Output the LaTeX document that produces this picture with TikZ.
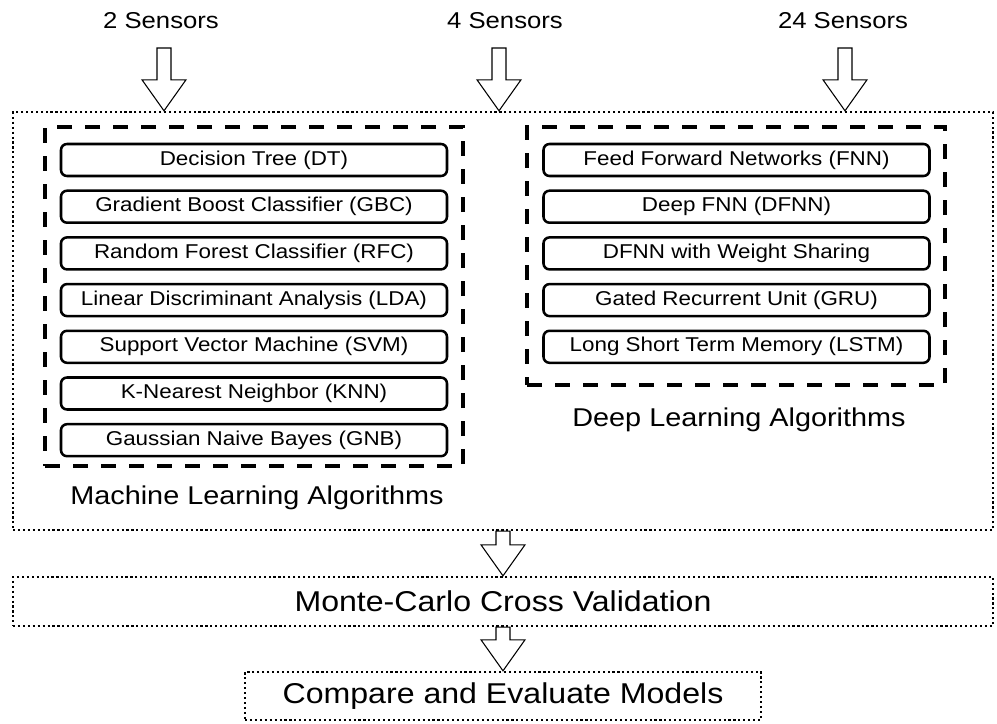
\documentclass[tikz,border=0pt]{standalone}
\usepackage{fontspec}
\setmainfont{Liberation Sans}[FakeStretch=1.12]
\usetikzlibrary{calc}
\tikzstyle{algo}=[draw,line width=1.9pt,rounded corners=4.5pt,minimum width=289.5pt,minimum height=24pt,inner sep=0pt,font=\fontsize{15}{18}\selectfont]
\tikzstyle{group}=[draw,line width=3pt,dash pattern=on 11pt off 10pt,inner sep=0pt]
\tikzstyle{frame}=[draw,line width=1.8pt,dash pattern=on 1.6pt off 2.1pt,inner sep=0pt]
\tikzstyle{heading}=[font=\fontsize{19.3}{23}\selectfont]
\tikzstyle{sensor}=[font=\fontsize{17.2}{21}\selectfont]
\tikzstyle{bigtext}=[font=\fontsize{21.5}{26}\selectfont]
\tikzstyle{hollow}=[draw,line width=0.8pt,fill=white]
\newcommand{\blockarrow}[2]{%
  \draw[hollow] ($(#1)+(-7,0)$) -- ($(#2)+(-7,-31)$) -- ($(#2)+(-22,-31)$) -- (#2)
    -- ($(#2)+(22,-31)$) -- ($(#2)+(7,-31)$) -- ($(#1)+(7,0)$) -- cycle;}
\begin{document}
\begin{tikzpicture}[x=0.75pt,y=-0.75pt]
  \useasboundingbox (0,0) rectangle (997,724);
  % sensor sets
  \node[sensor] (s2) at (161,21) {2 Sensors};
  \node[sensor] (s4) at (505,21) {4 Sensors};
  \node[sensor] (s24) at (843,21) {24 Sensors};
  \coordinate (in2) at (164,48);
  \coordinate (in4) at (499,48);
  \coordinate (in24) at (845,48);
  % frames
  \node[frame,minimum width=735pt,minimum height=313.5pt] (outer) at (503,321) {};
  \node[group,minimum width=313.5pt,minimum height=254.25pt] (ml) at (254,296.5) {};
  \node[group,minimum width=313.5pt,minimum height=193.5pt] (dl) at (736,256) {};
  \node[heading] (mltitle) at (257,498) {Machine Learning Algorithms};
  \node[heading] (dltitle) at (739,420) {Deep Learning Algorithms};
  % machine learning
  \path (254,160) node[algo] (dt) {Decision Tree (DT)}
      ++ (0,46.7) node[algo] (gbc) {Gradient Boost Classifier (GBC)}
      ++ (0,46.7) node[algo] (rfc) {Random Forest Classifier (RFC)}
      ++ (0,46.7) node[algo] (lda) {Linear Discriminant Analysis (LDA)}
      ++ (0,46.7) node[algo] (svm) {Support Vector Machine (SVM)}
      ++ (0,46.7) node[algo] (knn) {K-Nearest Neighbor (KNN)}
      ++ (0,46.7) node[algo] (gnb) {Gaussian Naive Bayes (GNB)};
  % deep learning
  \path (736.5,160) node[algo] (fnn) {Feed Forward Networks (FNN)}
      ++ (0,46.7) node[algo] (dfnn) {Deep FNN (DFNN)}
      ++ (0,46.7) node[algo] (ws) {DFNN with Weight Sharing}
      ++ (0,46.7) node[algo] (gru) {Gated Recurrent Unit (GRU)}
      ++ (0,46.7) node[algo] (lstm) {Long Short Term Memory (LSTM)};
  % evaluation
  \node[frame,bigtext,minimum width=735pt,minimum height=36.75pt] (mc) at (503,601.5) {Monte-Carlo Cross Validation};
  \node[frame,bigtext,minimum width=387pt,minimum height=36pt] (cmp) at (503,696) {Compare and Evaluate Models};
  \blockarrow{in2}{in2 |- outer.north}
  \blockarrow{in4}{in4 |- outer.north}
  \blockarrow{in24}{in24 |- outer.north}
  \blockarrow{outer.south}{mc.north}
  \blockarrow{mc.south}{cmp.north}
\end{tikzpicture}
\end{document}
